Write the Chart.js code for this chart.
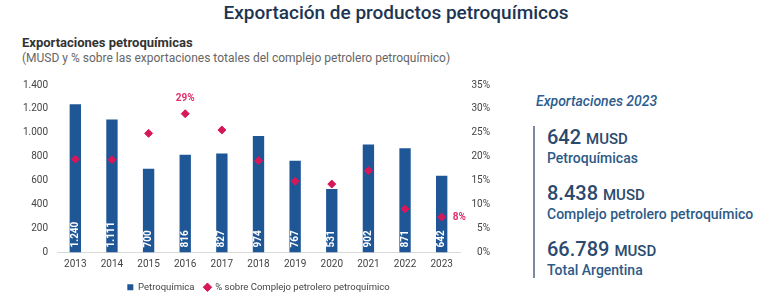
<!DOCTYPE html>
<html>
<head>
<meta charset="utf-8">
<script src="https://cdn.jsdelivr.net/npm/chart.js@4.4.1/dist/chart.umd.min.js"></script>
<style>
  body { margin: 0; width: 780px; height: 301px; background: #fff; position: relative; overflow: hidden; font-family: Roboto, sans-serif; }
  #title { position: absolute; top: 1px; left: 0; width: 792px; text-align: center; font-size: 19px; font-weight: 500; color: #1c3553; }
  #sub1 { position: absolute; top: 35px; left: 22px; font-size: 13px; font-weight: bold; color: #333; }
  #sub2 { position: absolute; top: 51px; left: 22px; font-size: 12px; color: #666; }
  #chartBox { position: absolute; left: 0; top: 70px; width: 490px; height: 232px; }
  #panelTitle { position: absolute; left: 536px; top: 93px; font-size: 14px; font-style: italic; font-weight: 500; color: #2e5d8e; }
  #panel { position: absolute; left: 533px; top: 126px; height: 152px; border-left: 2px solid #7a8aa3; padding-left: 12px; }
  .num { font-size: 20px; font-weight: 500; color: #2b4a6e; line-height: 22px; margin-top: 0; }
  .num span { font-size: 15px; }
  .lab { font-size: 14px; font-weight: 500; color: #2e5a88; line-height: 17px; margin-bottom: 15px; }
</style>
</head>
<body>
<div id="title">Exportación de productos petroquímicos</div>
<div id="sub1">Exportaciones petroquímicas</div>
<div id="sub2">(MUSD y % sobre las exportaciones totales del complejo petrolero petroquímico)</div>
<div id="chartBox"><canvas id="petroChart"></canvas></div>
<div id="panelTitle">Exportaciones 2023</div>
<div id="panel">
  <div class="num">642 <span>MUSD</span></div>
  <div class="lab">Petroquímicas</div>
  <div class="num">8.438 <span>MUSD</span></div>
  <div class="lab">Complejo petrolero petroquímico</div>
  <div class="num">66.789 <span>MUSD</span></div>
  <div class="lab" style="margin-bottom:0">Total Argentina</div>
</div>
<script>
// Data
const years = ['2013', '2014', '2015', '2016', '2017', '2018', '2019', '2020', '2021', '2022', '2023'];
const petroquimica = [1240, 1111, 700, 816, 827, 974, 767, 531, 902, 871, 642];
const pctComplejo = [19.5, 19.4, 24.9, 29.0, 25.6, 19.2, 14.9, 14.3, 17.1, 9.1, 7.4];
// only some percentage points carry a label
const pctLabels = ['', '', '', '29%', '', '', '', '', '', '', '8%'];

const fmt = v => String(v).replace(/\B(?=(\d{3})+(?!\d))/g, '.');

// Writes the values inside the bars and the two % labels
const valueLabels = {
    id: 'valueLabels',
    afterLayout(chart) {
        // center the legend under the plot area
        const lg = chart.legend;
        const shift = (chart.chartArea.left + chart.chartArea.right) / 2 - (lg.left + lg.right) / 2;
        lg.left += shift;
        lg.right += shift;
    },
    afterDatasetsDraw(chart) {
        const ctx = chart.ctx;
        const bars = chart.getDatasetMeta(0).data;
        ctx.save();
        ctx.font = 'bold 10px Roboto';
        ctx.fillStyle = '#ffffff';
        ctx.textAlign = 'left';
        ctx.textBaseline = 'middle';
        bars.forEach((bar, i) => {
            ctx.save();
            ctx.translate(bar.x, bar.base - 5);
            ctx.rotate(-Math.PI / 2);
            ctx.fillText(fmt(petroquimica[i]), 0, 0);
            ctx.restore();
        });
        const pts = chart.getDatasetMeta(1).data;
        ctx.fillStyle = '#e0306a';
        pts.forEach((p, i) => {
            if (!pctLabels[i]) return;
            if (i === pts.length - 1) {
                ctx.textAlign = 'left';
                ctx.fillText(pctLabels[i], p.x + 11, p.y);
            } else {
                ctx.textAlign = 'center';
                ctx.fillText(pctLabels[i], p.x, p.y - 15);
            }
        });
        ctx.restore();
    }
};

const config = {
    type: 'bar',
    data: {
        labels: years,
        datasets: [{
            label: 'Petroquímica',
            data: petroquimica,
            backgroundColor: '#1f5796',
            pointStyle: 'rect',
            yAxisID: 'y',
            barPercentage: 0.31,
            categoryPercentage: 1,
            order: 2
        }, {
            type: 'line',
            label: '% sobre Complejo petrolero petroquímico',
            data: pctComplejo,
            showLine: false,
            pointStyle: 'rectRot',
            pointRadius: 4,
            backgroundColor: '#d6185a',
            borderColor: '#d6185a',
            yAxisID: 'y1',
            order: 1
        }]
    },
    options: {
        responsive: true,
        maintainAspectRatio: false,
        animation: false,
        layout: { padding: { top: 8, bottom: 0 } },
        plugins: {
            tooltip: { enabled: false },
            legend: {
                position: 'bottom',
                labels: {
                    usePointStyle: true,
                    boxWidth: 6,
                    boxHeight: 6,
                    padding: 10,
                    color: '#444',
                    font: { family: 'Roboto', size: 9.5 },
                    sort: (a, b) => a.datasetIndex - b.datasetIndex
                }
            }
        },
        scales: {
            x: {
                grid: { display: false, drawTicks: false },
                border: { color: '#d9d9d9' },
                ticks: { color: '#444', font: { family: 'Roboto', size: 10 }, padding: 6 },
                afterFit: s => { s.height = 20; }
            },
            y: {
                position: 'left',
                min: 0,
                max: 1400,
                grid: { display: false, drawTicks: false },
                border: { display: false },
                ticks: { stepSize: 200, color: '#444', font: { family: 'Roboto', size: 10 }, padding: 9, callback: v => fmt(v) },
                afterFit: s => { s.width = 57; }
            },
            y1: {
                position: 'right',
                min: 0,
                max: 35,
                grid: { display: false, drawTicks: false },
                border: { display: false },
                ticks: { stepSize: 5, color: '#444', font: { family: 'Roboto', size: 10 }, padding: 9, crossAlign: 'far', callback: v => v + '%' },
                afterFit: s => { s.width = 30; }
            }
        }
    },
    plugins: [valueLabels]
};

const petroChart = new Chart(document.getElementById('petroChart'), config);
</script>
</body>
</html>
